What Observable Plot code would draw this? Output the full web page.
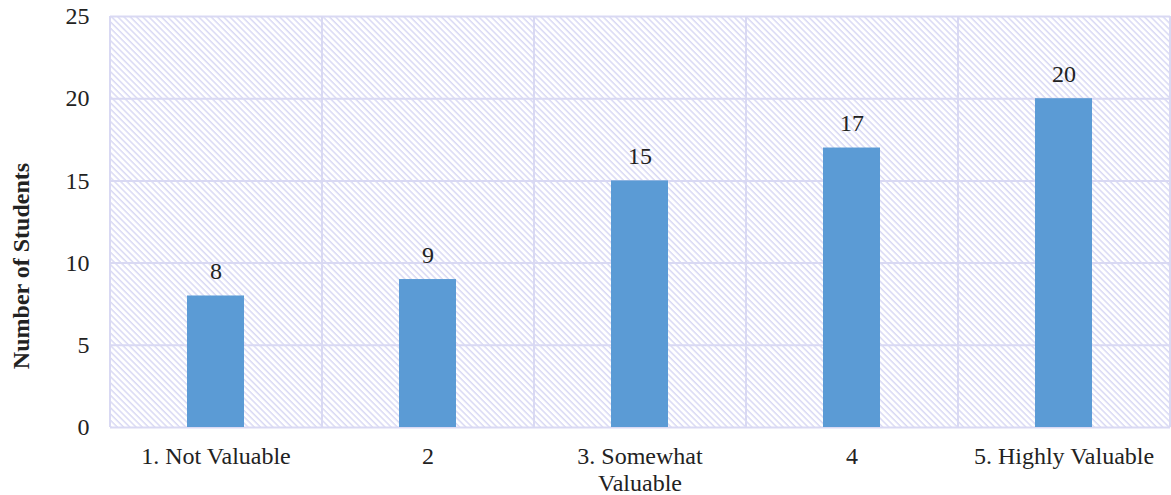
<!DOCTYPE html>
<html>
<head>
<meta charset="utf-8">
<script src="https://cdn.jsdelivr.net/npm/d3@7"></script>
<script src="https://cdn.jsdelivr.net/npm/@observablehq/plot@0.6"></script>
<style>
  html, body { margin: 0; padding: 0; background: #fff; }
  #chart { width: 1171px; height: 495px; overflow: hidden; }
  #chart svg text { font-family: "Liberation Serif", "Times New Roman", serif; }
</style>
</head>
<body>
<div id="chart"></div>
<script>
const categories = ["1. Not Valuable", "2", "3. Somewhat\nValuable", "4", "5. Highly Valuable"];
const counts = [8, 9, 15, 17, 20];
const yTicks = [0, 5, 10, 15, 20, 25];
const yLabel = "Number of Students";

const data = categories.map((c, i) => ({category: c, count: counts[i]}));

const W = 1171, H = 495, mL = 110, mR = 1, mT = 16, mB = 68;
const step = (W - mL - mR) / categories.length;
const font = "Liberation Serif";
const gridColor = "#d9d9f3";
const textColor = "#222222";

const plot = Plot.plot({
  width: W, height: H,
  marginLeft: mL, marginRight: mR, marginTop: mT, marginBottom: mB,
  style: {fontFamily: font, fontSize: "24px", color: textColor, background: "transparent", overflow: "visible"},
  x: {domain: categories, paddingInner: 0.73, paddingOuter: 0.365, label: null},
  y: {domain: [0, 25], ticks: yTicks, label: null},
  marks: [
    Plot.frame({fill: "url(#hatch)", stroke: null}),
    Plot.gridY(yTicks, {stroke: gridColor, strokeOpacity: 1, strokeWidth: 2}),
    Plot.ruleX(categories, {x: d => d, dx: -step / 2, stroke: gridColor, strokeWidth: 2}),
    Plot.ruleX([categories[categories.length - 1]], {dx: step / 2, stroke: gridColor, strokeWidth: 2}),
    Plot.barY(data, {x: "category", y: "count", fill: "#5b9bd5"}),
    Plot.text(data, {x: "category", y: "count", text: d => String(d.count), lineAnchor: "bottom", dy: -17, fontSize: 24, fill: textColor}),
    Plot.axisX({tickSize: 0, tickPadding: 18, fontSize: 24, lineHeight: 1.1, fill: textColor}),
    Plot.axisY(yTicks, {tickSize: 0, tickPadding: 21, fontSize: 24, fill: textColor}),
    Plot.text([yLabel], {frameAnchor: "left", textAnchor: "middle", rotate: -90, dx: -89, dy: 44, fontWeight: "bold", fontSize: 24, fill: textColor})
  ]
});

const ns = "http://www.w3.org/2000/svg";
const defs = document.createElementNS(ns, "defs");
defs.innerHTML = `<pattern id="hatch" width="4.4" height="4.4" patternUnits="userSpaceOnUse" patternTransform="rotate(-45)">
  <rect width="4.4" height="4.4" fill="#ffffff"></rect>
  <line x1="1" y1="0" x2="1" y2="4.4" stroke="#d6d6f4" stroke-width="1.4"></line>
</pattern>`;
plot.insertBefore(defs, plot.firstChild);
document.getElementById("chart").appendChild(plot);
</script>
</body>
</html>
